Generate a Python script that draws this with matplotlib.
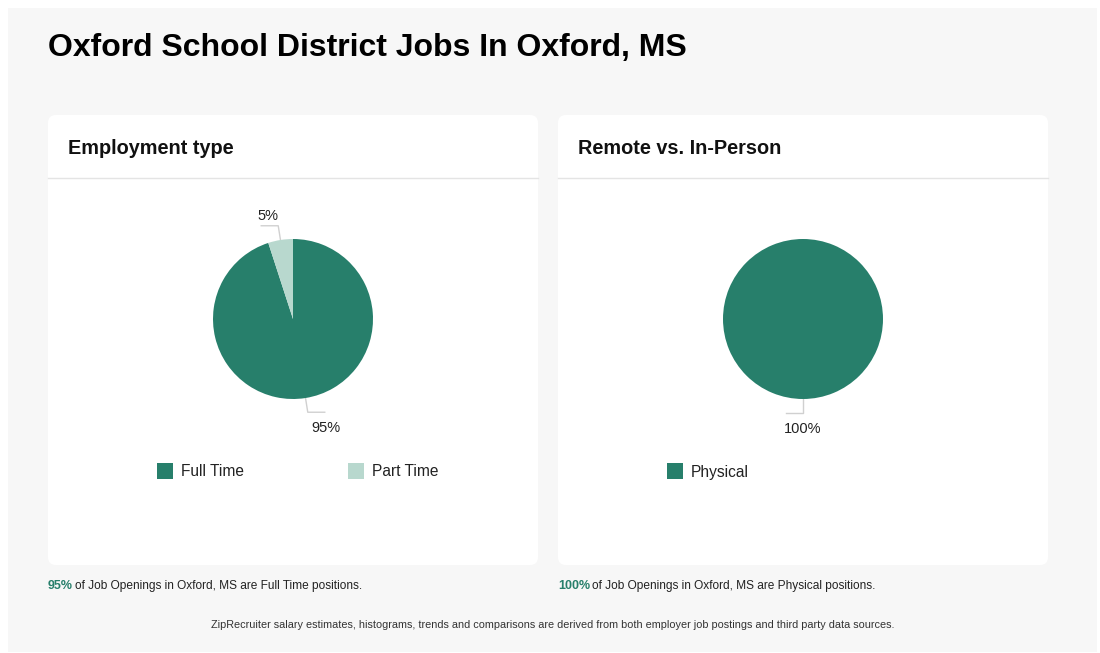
import numpy as np
import matplotlib.pyplot as plt
from matplotlib.patches import FancyBboxPatch, Rectangle

plt.rcParams['font.family'] = ['Liberation Sans', 'DejaVu Sans']

title = "Oxford School District Jobs In Oxford, MS"
footnote = ("ZipRecruiter salary estimates, histograms, trends and comparisons are derived "
            "from both employer job postings and third party data sources.")

# panel 1
emp_title = "Employment type"
emp_labels = ["Full Time", "Part Time"]
emp_values = [95, 5]
# panel 2
rem_title = "Remote vs. In-Person"
rem_labels = ["Physical"]
rem_values = [100]

colors = ["#277f6b", "#b8d8ce"]
green = "#277f6b"

W, H = 1100, 653
fig = plt.figure(figsize=(W / 100, H / 100), dpi=100)
fig.patch.set_facecolor("white")

bg = fig.add_axes([0, 0, 1, 1])
bg.set_xlim(0, W)
bg.set_ylim(H, 0)
bg.axis("off")

bg.add_patch(Rectangle((8, 8), 1089, 644, facecolor="#f7f7f7", edgecolor="none"))
bg.text(48, 48, title, fontsize=23, fontweight="bold", va="center", ha="left", color="#000000")


def fig_px(x, y):
    return x / W, 1 - y / H


def panel(x0, name, labels, values, legend_x, note):
    # card
    bg.add_patch(FancyBboxPatch((x0, 115), 490, 450, boxstyle="round,pad=0,rounding_size=8",
                                facecolor="white", edgecolor="none"))
    bg.plot([x0, x0 + 490], [178, 178], color="#e4e4e4", lw=1)
    bg.text(x0 + 20, 148, name, fontsize=14.3, fontweight="bold", va="center", ha="left", color="#111111")

    # pie
    cx, cy, r = x0 + 245, 319, 80
    fx, fy = fig_px(cx - r, cy + r)
    pax = fig.add_axes([fx, fy, 2 * r / W, 2 * r / H])
    wedges, _ = pax.pie(values, colors=colors[:len(values)], startangle=90, counterclock=False,
                        radius=1, wedgeprops=dict(linewidth=0))
    pax.set_xlim(-1, 1)
    pax.set_ylim(-1, 1)
    pax.axis("off")

    total = float(sum(values))
    for w, v in zip(wedges, values):
        mid = np.deg2rad((w.theta1 + w.theta2) / 2)
        dx, dy = np.cos(mid), np.sin(mid)
        ex, ey = cx + r * dx, cy - r * dy
        kx, ky = cx + r * 1.18 * dx, cy - r * 1.18 * dy
        side = 1 if dx > 0.01 else -1
        hx = kx + side * 17
        bg.plot([ex, kx, hx], [ey, ky, ky], color="#d0d0d0", lw=1)
        pct = "%d%%" % round(100 * v / total)
        if dy < 0:
            tx = hx + 1 if side > 0 else kx
            bg.text(tx, ky + 16, pct, fontsize=10.5, ha="center", va="center", color="#222222")
        else:
            bg.text(hx + 7, ky - 10, pct, fontsize=10.5, ha="center", va="center", color="#222222")

    # legend
    for i, (lab, lx) in enumerate(zip(labels, legend_x)):
        bg.add_patch(Rectangle((lx, 463), 16, 16, facecolor=colors[i], edgecolor="none"))
        bg.text(lx + 24, 472, lab, fontsize=11.2, ha="left", va="center", color="#222222")

    # note under card
    t1 = bg.text(x0, 586, "%d%%" % round(100 * values[0] / total), fontsize=9, fontweight="bold",
                 color=green, ha="left", va="center")
    bg.annotate(note, xy=(1, 0), xycoords=t1, xytext=(1.5, 0), textcoords="offset points",
                fontsize=8.6, ha="left", va="bottom", color="#222222")


panel(48, emp_title, emp_labels, emp_values, [157, 348],
      "of Job Openings in Oxford, MS are Full Time positions.")
panel(558, rem_title, rem_labels, rem_values, [667],
      "of Job Openings in Oxford, MS are Physical positions.")

bg.text(553, 625, footnote, fontsize=7.86, ha="center", va="center", color="#333333")

fig.savefig("out.png", dpi=100, facecolor=fig.get_facecolor())
